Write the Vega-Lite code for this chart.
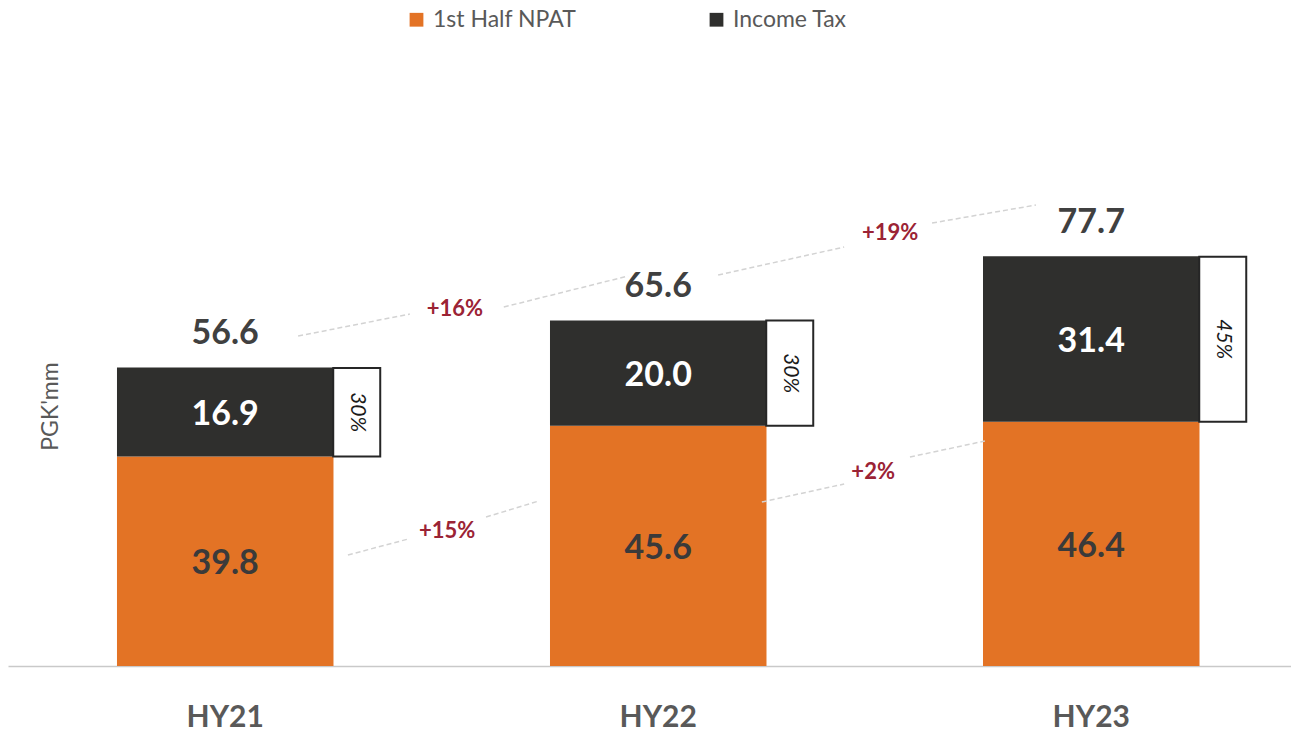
{
  "$schema": "https://vega.github.io/schema/vega-lite/v6.json",
  "width": 1283,
  "height": 632,
  "autosize": {"type": "none"},
  "padding": {"left": 8, "top": 34, "right": 0, "bottom": 65},
  "config": {
    "view": {"stroke": null},
    "font": "Lato",
    "axis": {"grid": false},
    "axisX": {"domainColor": "#c9c9c9", "domainWidth": 1.5, "ticks": false, "labelFontSize": 30, "labelFontWeight": "bold", "labelColor": "#595959", "labelPadding": 36, "labelAngle": 0},
    "axisY": {"labels": false, "ticks": false, "domain": false, "titleX": 49, "titleY": 372, "titleAlign": "center", "titleBaseline": "alphabetic", "titleFontSize": 23, "titleFontWeight": "normal", "titleColor": "#595959"}
  },
  "datasets": {
    "segments": [
      {"period": "HY21", "series": "1st Half NPAT", "value": 39.8},
      {"period": "HY21", "series": "Income Tax", "value": 16.9},
      {"period": "HY22", "series": "1st Half NPAT", "value": 45.6},
      {"period": "HY22", "series": "Income Tax", "value": 20.0},
      {"period": "HY23", "series": "1st Half NPAT", "value": 46.4},
      {"period": "HY23", "series": "Income Tax", "value": 31.4}
    ],
    "totals": [
      {"period": "HY21", "npat": 39.8, "total": 56.6, "rate": "30%"},
      {"period": "HY22", "npat": 45.6, "total": 65.6, "rate": "30%"},
      {"period": "HY23", "npat": 46.4, "total": 77.7, "rate": "45%"}
    ],
    "trend": [
      {"seg": "a1", "x": 0.670, "y": 62.65},
      {"seg": "a1", "x": 0.928, "y": 66.83},
      {"seg": "b1", "x": 1.145, "y": 68.16},
      {"seg": "b1", "x": 1.432, "y": 74.05},
      {"seg": "a2", "x": 1.640, "y": 74.24},
      {"seg": "a2", "x": 1.931, "y": 79.55},
      {"seg": "b2", "x": 2.134, "y": 84.11},
      {"seg": "b2", "x": 2.374, "y": 87.53},
      {"seg": "a3", "x": 0.785, "y": 21.07},
      {"seg": "a3", "x": 0.924, "y": 24.11},
      {"seg": "b3", "x": 1.104, "y": 28.29},
      {"seg": "b3", "x": 1.226, "y": 31.33},
      {"seg": "a4", "x": 1.741, "y": 31.14},
      {"seg": "a4", "x": 1.931, "y": 34.55},
      {"seg": "b4", "x": 2.083, "y": 39.68},
      {"seg": "b4", "x": 2.256, "y": 42.72}
    ],
    "growth": [
      {"label": "+16%", "x": 1.032, "y": 67.8},
      {"label": "+19%", "x": 2.037, "y": 82.2},
      {"label": "+15%", "x": 1.014, "y": 25.6},
      {"label": "+2%", "x": 1.998, "y": 36.8}
    ]
  },
  "layer": [
    {
      "layer": [
        {
          "data": {"name": "segments"},
          "mark": {"type": "bar"},
          "encoding": {
            "x": {"field": "period", "type": "nominal", "title": null, "sort": null,
                  "scale": {"type": "band", "domain": ["HY21", "HY22", "HY23"], "paddingInner": 0.5, "paddingOuter": 0.2315, "align": 0.5436}},
            "y": {"field": "value", "type": "quantitative", "stack": "zero", "title": "PGK'mm", "scale": {"domain": [0, 120], "nice": false}},
            "order": {"field": "series", "sort": "ascending"},
            "color": {"field": "series", "type": "nominal",
                      "scale": {"domain": ["1st Half NPAT", "Income Tax"], "range": ["#e37325", "#2f2f2d"]},
                      "legend": {"orient": "none", "legendX": 397, "legendY": -26, "direction": "horizontal", "title": null, "symbolType": "square", "symbolSize": 190, "symbolStrokeWidth": 0, "labelFontSize": 23, "labelColor": "#595959", "labelOffset": 5, "columnPadding": 128, "padding": 0}}
          }
        },
        {
          "data": {"name": "segments"},
          "transform": [
            {"stack": "value", "groupby": ["period"], "sort": [{"field": "series", "order": "ascending"}], "as": ["v0", "v1"]},
            {"fold": ["v0", "v1"], "as": ["edge", "pos"]},
            {"aggregate": [{"op": "mean", "field": "pos", "as": "mid"}, {"op": "max", "field": "value", "as": "val"}], "groupby": ["period", "series"]}
          ],
          "mark": {"type": "text", "fontSize": 34, "fontWeight": "bold", "baseline": "middle", "align": "center", "dy": 3},
          "encoding": {
            "x": {"field": "period", "type": "nominal", "title": null, "sort": null},
            "y": {"field": "mid", "type": "quantitative", "title": "PGK'mm"},
            "text": {"field": "val", "type": "quantitative", "format": ".1f"},
            "color": {"condition": {"test": "datum.series === 'Income Tax'", "value": "#ffffff"}, "value": "#3a3a3a"}
          }
        },
        {
          "data": {"name": "totals"},
          "mark": {"type": "bar", "width": 47, "xOffset": 131.5, "fill": "#ffffff", "stroke": "#262626", "strokeWidth": 2},
          "encoding": {
            "x": {"field": "period", "type": "nominal", "title": null, "sort": null},
            "y": {"field": "npat", "type": "quantitative", "title": "PGK'mm"},
            "y2": {"field": "total"}
          }
        },
        {
          "data": {"name": "totals"},
          "transform": [
            {"fold": ["npat", "total"], "as": ["k", "v"]},
            {"aggregate": [{"op": "mean", "field": "v", "as": "mid"}], "groupby": ["period", "rate"]}
          ],
          "mark": {"type": "text", "angle": 90, "xOffset": 131.5, "fontSize": 21, "fontStyle": "italic", "color": "#1a1a1a", "align": "center", "baseline": "middle"},
          "encoding": {
            "x": {"field": "period", "type": "nominal", "title": null, "sort": null},
            "y": {"field": "mid", "type": "quantitative", "title": "PGK'mm"},
            "text": {"field": "rate", "type": "nominal"}
          }
        },
        {
          "data": {"name": "totals"},
          "mark": {"type": "text", "fontSize": 34, "fontWeight": "bold", "color": "#404040", "align": "center", "baseline": "middle", "dy": -34},
          "encoding": {
            "x": {"field": "period", "type": "nominal", "title": null, "sort": null},
            "y": {"field": "total", "type": "quantitative", "title": "PGK'mm"},
            "text": {"field": "total", "type": "quantitative", "format": ".1f"}
          }
        }
      ]
    },
    {
      "data": {"name": "trend"},
      "mark": {"type": "line", "color": "#d3d3d3", "strokeWidth": 1.5, "strokeDash": [5, 3]},
      "encoding": {
        "x": {"field": "x", "type": "quantitative", "axis": null, "scale": {"domain": [0, 2.963], "nice": false, "zero": false}},
        "y": {"field": "y", "type": "quantitative", "title": "PGK'mm"},
        "detail": {"field": "seg"}
      }
    },
    {
      "data": {"name": "growth"},
      "mark": {"type": "text", "fontSize": 22, "fontWeight": "bold", "color": "#9b2335", "align": "center", "baseline": "middle"},
      "encoding": {
        "x": {"field": "x", "type": "quantitative", "axis": null, "scale": {"domain": [0, 2.963], "nice": false, "zero": false}},
        "y": {"field": "y", "type": "quantitative", "title": "PGK'mm"},
        "text": {"field": "label", "type": "nominal"}
      }
    }
  ],
  "resolve": {"scale": {"x": "independent"}}
}
